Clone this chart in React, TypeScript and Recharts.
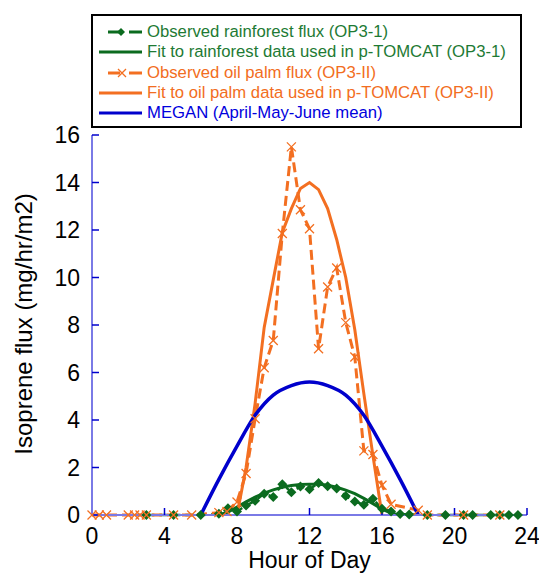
import { LineChart, Line, XAxis, YAxis } from 'recharts';

// axis ticks
const hourTicks = [0, 4, 8, 12, 16, 20, 24];
const fluxTicks = [0, 2, 4, 6, 8, 10, 12, 14, 16];

// observed rainforest flux (OP3-1)
const rainObsHour = [3, 4.5, 6, 7, 7.5, 8, 8.5, 9, 9.5, 10, 10.5, 11, 11.5, 12, 12.5, 13, 13.5, 14, 14.5, 15, 15.5, 16, 16.5, 17, 17.5, 18.5, 19.5, 20.5, 21, 22, 22.5, 23, 23.5];
const rainObsFlux = [0, 0, 0, 0.05, 0.28, 0.15, 0.4, 0.6, 0.9, 0.76, 1.3, 0.96, 1.2, 1.08, 1.35, 1.21, 1.12, 0.8, 0.57, 0.43, 0.68, 0.26, 0.15, 0.04, 0.02, 0, 0, 0, 0, 0, 0, 0, 0];

// fit to rainforest data used in p-TOMCAT
const rainFitHour = [7, 7.5, 8, 8.5, 9, 9.5, 10, 10.5, 11, 11.5, 12, 12.5, 13, 13.5, 14, 14.5, 15, 15.5, 16, 16.5, 17];
const rainFitFlux = [0, 0.12, 0.33, 0.55, 0.75, 0.92, 1.06, 1.17, 1.24, 1.28, 1.3, 1.3, 1.25, 1.17, 1.05, 0.9, 0.7, 0.48, 0.25, 0.08, 0];

// observed oil palm flux (OP3-II)
const palmObsHour = [0, 0.4, 0.8, 2, 2.35, 2.65, 3, 4.5, 5.5, 7, 7.45, 8, 8.5, 9, 9.5, 10, 10.5, 11, 11.5, 12, 12.5, 13, 13.5, 14, 14.5, 15, 15.5, 16, 16.5, 18, 18.5, 20.5, 22.5];
const palmObsFlux = [0, 0, 0, 0, 0, 0, 0, 0, 0, 0.1, 0.15, 0.55, 1.75, 4.05, 6.2, 7.35, 11.85, 15.5, 12.85, 12.05, 7.0, 9.6, 10.4, 8.1, 6.65, 2.7, 2.55, 1.25, 0.45, 0.2, 0, 0, 0];

// fit to oil palm data used in p-TOMCAT
const palmFitHour = [8, 8.5, 9, 9.5, 10, 10.5, 11, 11.5, 12, 12.5, 13, 13.5, 14, 14.5, 15, 15.5, 16];
const palmFitFlux = [0, 2.0, 4.7, 7.9, 9.9, 11.9, 12.9, 13.75, 14.0, 13.7, 12.9, 11.6, 10.0, 7.8, 5.1, 2.5, 0];

// MEGAN (April-May-June mean)
const meganHour = [6, 7, 8, 9, 10, 11, 12, 13, 14, 15, 16, 17, 18];
const meganFlux = [0, 1.5, 2.9, 4.2, 5.05, 5.45, 5.6, 5.45, 5.05, 4.2, 2.9, 1.5, 0];

const GREEN = '#0b6b1f';
const ORANGE = '#f36f21';
const BLUE = '#0000cc';
const FRAME = '#7a7ae6';
const FONT = '"Liberation Sans", Arial, sans-serif';

const pairs = (h: number[], v: number[]) => h.map((hour, i) => ({ hour, flux: v[i] }));

const rainObs = pairs(rainObsHour, rainObsFlux);
const rainFit = pairs(rainFitHour, rainFitFlux);
const palmObs = pairs(palmObsHour, palmObsFlux);
const palmFit = pairs(palmFitHour, palmFitFlux);
const megan = pairs(meganHour, meganFlux);

const Diamond = (props: any) => {
  const { cx, cy, index } = props;
  if (cx == null || cy == null) return <g key={index} />;
  return (
    <path
      key={index}
      d={`M${cx},${cy - 5}L${cx + 5},${cy}L${cx},${cy + 5}L${cx - 5},${cy}Z`}
      fill={GREEN}
    />
  );
};

const Cross = (props: any) => {
  const { cx, cy, index } = props;
  if (cx == null || cy == null) return <g key={index} />;
  const r = 4.5;
  return (
    <path
      key={index}
      d={`M${cx - r},${cy - r}L${cx + r},${cy + r}M${cx - r},${cy + r}L${cx + r},${cy - r}`}
      stroke={ORANGE}
      strokeWidth={1.3}
      fill="none"
    />
  );
};

const YTitle = (props: any) => {
  const { viewBox } = props;
  const cx = 32;
  const cy = viewBox.y + viewBox.height / 2 - 1;
  return (
    <text
      x={cx}
      y={cy}
      transform={`rotate(-90 ${cx} ${cy})`}
      textAnchor="middle"
      fontSize={24}
      fontFamily={FONT}
      fill="#000"
    >
      Isoprene flux (mg/hr/m2)
    </text>
  );
};

const XTitle = (props: any) => {
  const { viewBox } = props;
  return (
    <text
      x={viewBox.x + viewBox.width / 2}
      y={568}
      textAnchor="middle"
      fontSize={23}
      fontFamily={FONT}
      fill="#000"
    >
      Hour of Day
    </text>
  );
};

const legendRows = [
  { label: 'Observed rainforest flux (OP3-1)', color: GREEN, kind: 'diamond' },
  { label: 'Fit to rainforest data used in p-TOMCAT (OP3-1)', color: GREEN, kind: 'line' },
  { label: 'Observed oil palm flux (OP3-II)', color: ORANGE, kind: 'cross' },
  { label: 'Fit to oil palm data used in p-TOMCAT (OP3-II)', color: ORANGE, kind: 'line' },
  { label: 'MEGAN (April-May-June mean)', color: BLUE, kind: 'line' },
];

const textColor: Record<string, string> = {
  [GREEN]: '#1e7a34',
  [ORANGE]: '#f26d21',
  [BLUE]: '#0000dd',
};

function LegendSymbol({ kind, color }: { kind: string; color: string }) {
  if (kind === 'line') {
    return (
      <svg width={43} height={10} style={{ display: 'block' }}>
        <line x1={0} y1={5} x2={43} y2={5} stroke={color} strokeWidth={3} />
      </svg>
    );
  }
  return (
    <svg width={43} height={10} style={{ display: 'block' }}>
      <line x1={9} y1={5} x2={21} y2={5} stroke={color} strokeWidth={3} />
      <line x1={30} y1={5} x2={43} y2={5} stroke={color} strokeWidth={3} />
      {kind === 'diamond' ? (
        <path d="M22,1L26,5L22,9L18,5Z" fill={color} />
      ) : (
        <path d="M19,1L27,9M19,9L27,1" stroke={color} strokeWidth={1.3} />
      )}
    </svg>
  );
}

export default function App() {
  return (
    <div style={{ position: 'absolute', left: 0, top: 0, width: 539, height: 575, background: '#fff', overflow: 'hidden' }}>
      <LineChart
        width={539}
        height={575}
        margin={{ top: 135, right: 12, bottom: 30, left: 32 }}
      >
        <XAxis
          type="number"
          dataKey="hour"
          domain={[0, 24]}
          ticks={hourTicks}
          interval={0}
          height={30}
          tickSize={-7}
          tickMargin={20}
          axisLine={{ stroke: FRAME, strokeWidth: 2 }}
          tickLine={{ stroke: BLUE, strokeWidth: 1.5 }}
          tick={{ fontSize: 23, fill: '#000', fontFamily: FONT }}
          label={<XTitle />}
        />
        <XAxis
          xAxisId="top"
          orientation="top"
          type="number"
          domain={[0, 24]}
          ticks={hourTicks}
          interval={0}
          height={0}
          tickSize={-7}
          tick={false}
          axisLine={{ stroke: FRAME, strokeWidth: 2 }}
          tickLine={{ stroke: BLUE, strokeWidth: 1.5 }}
        />
        <YAxis
          type="number"
          domain={[0, 16]}
          ticks={fluxTicks}
          interval={0}
          width={60}
          tickSize={-7}
          tickMargin={19}
          axisLine={{ stroke: FRAME, strokeWidth: 2 }}
          tickLine={{ stroke: BLUE, strokeWidth: 1.5 }}
          tick={{ fontSize: 23, fill: '#000', fontFamily: FONT }}
          label={<YTitle />}
        />
        <YAxis
          yAxisId="right"
          orientation="right"
          type="number"
          domain={[0, 16]}
          ticks={fluxTicks}
          interval={0}
          width={0}
          tickSize={-7}
          tick={false}
          axisLine={{ stroke: FRAME, strokeWidth: 2 }}
          tickLine={{ stroke: BLUE, strokeWidth: 1.5 }}
        />
        <Line
          data={rainObs}
          dataKey="flux"
          stroke={GREEN}
          strokeWidth={2.5}
          strokeDasharray="8 5"
          dot={Diamond}
          activeDot={false}
          isAnimationActive={false}
        />
        <Line
          data={rainFit}
          dataKey="flux"
          stroke={GREEN}
          strokeWidth={3}
          dot={false}
          activeDot={false}
          isAnimationActive={false}
        />
        <Line
          data={palmObs}
          dataKey="flux"
          stroke={ORANGE}
          strokeWidth={3}
          strokeDasharray="10 5"
          dot={Cross}
          activeDot={false}
          isAnimationActive={false}
        />
        <Line
          data={palmFit}
          dataKey="flux"
          stroke={ORANGE}
          strokeWidth={3}
          dot={false}
          activeDot={false}
          isAnimationActive={false}
        />
        <Line
          data={megan}
          dataKey="flux"
          stroke={BLUE}
          strokeWidth={3.5}
          type="monotone"
          dot={false}
          activeDot={false}
          isAnimationActive={false}
        />
      </LineChart>
      <div
        style={{
          position: 'absolute',
          left: 91,
          top: 14,
          width: 427,
          height: 104,
          border: '2px solid #000',
          background: '#fff',
          fontFamily: FONT,
          fontSize: 16.7,
          lineHeight: '20.3px',
          paddingTop: 6,
          boxSizing: 'content-box',
        }}
      >
        {legendRows.map((row) => (
          <div key={row.label} style={{ display: 'flex', alignItems: 'center', height: 20.3 }}>
            <div style={{ width: 6 }} />
            <LegendSymbol kind={row.kind} color={row.color} />
            <div style={{ width: 5 }} />
            <span style={{ color: textColor[row.color], whiteSpace: 'nowrap' }}>{row.label}</span>
          </div>
        ))}
      </div>
    </div>
  );
}
